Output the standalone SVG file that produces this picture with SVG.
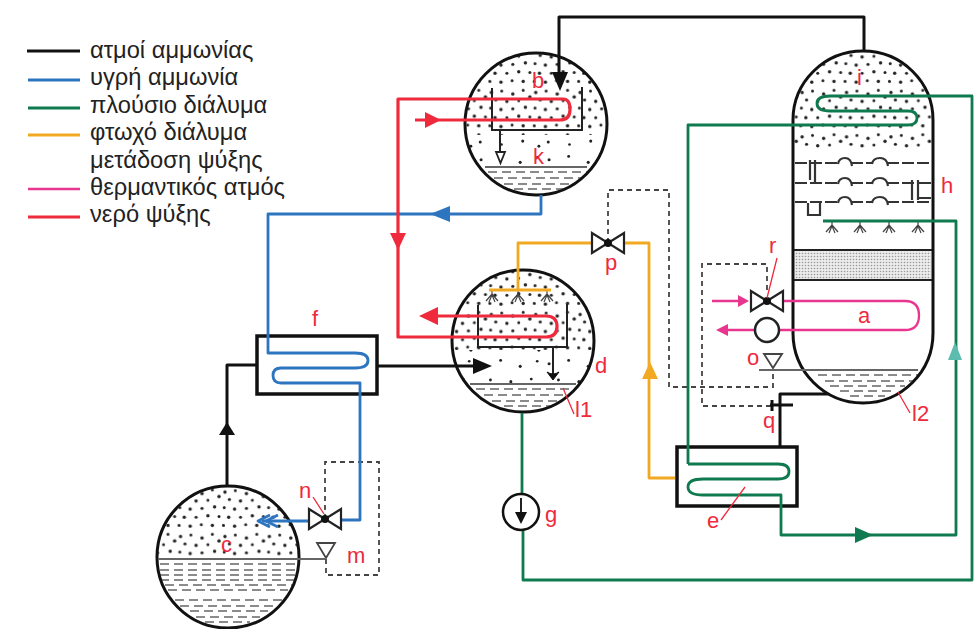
<svg xmlns="http://www.w3.org/2000/svg" xmlns:xlink="http://www.w3.org/1999/xlink" width="974" height="629" viewBox="0 0 974 629">
<style>
text{font-family:"Liberation Sans",Arial,sans-serif}
.leg{font-size:23.700px;fill:#222}
.lab{font-size:22px;fill:#ee2a3c}
.ves{fill:none;stroke:#111;stroke-width:3}
.box{fill:#fff;stroke:#111;stroke-width:3.5}
.c{fill:none;stroke-linejoin:round}
.k{stroke:#111;stroke-width:3}
.b{stroke:#2e75c0;stroke-width:2.800}
.g{stroke:#0f7a4f;stroke-width:2.800}
.o{stroke:#f2a922;stroke-width:2.800}
.p{stroke:#e8368f;stroke-width:2.300}
.r{stroke:#ee2a3c;stroke-width:3.200}
.thin{fill:none;stroke:#222;stroke-width:2}
.dash{fill:none;stroke:#444;stroke-width:1.800;stroke-dasharray:5 4}
.liq{fill:none;stroke:#666;stroke-width:1.500;stroke-dasharray:9 5}
.lev{stroke:#666;stroke-width:1.800;fill:none}
.lead{stroke:#ee2a3c;stroke-width:1.300;fill:none}
.tray{fill:none;stroke:#333;stroke-width:2.200;stroke-dasharray:12 3}
.cap{fill:none;stroke:#333;stroke-width:2.200}
.valve{fill:#fff;stroke:#222;stroke-width:2.200}
.spr{fill:none;stroke:#444;stroke-width:1.200}
</style>
<defs>
<pattern id="dense" width="60" height="60" patternUnits="userSpaceOnUse" patternTransform="scale(.74)">
<g fill="#222"><circle cx="4" cy="5" r="2.300"/><circle cx="18" cy="3" r="2"/><circle cx="33" cy="7" r="2.300"/><circle cx="47" cy="2" r="2"/><circle cx="56" cy="11" r="2.300"/><circle cx="10" cy="15" r="2.100"/><circle cx="25" cy="17" r="2.300"/><circle cx="41" cy="16" r="2"/><circle cx="3" cy="26" r="2"/><circle cx="17" cy="28" r="2.300"/><circle cx="33" cy="27" r="2.100"/><circle cx="50" cy="25" r="2.300"/><circle cx="9" cy="39" r="2.300"/><circle cx="25" cy="39" r="2"/><circle cx="41" cy="37" r="2.300"/><circle cx="56" cy="38" r="2"/><circle cx="2" cy="50" r="2.100"/><circle cx="17" cy="51" r="2.300"/><circle cx="32" cy="49" r="2"/><circle cx="47" cy="50" r="2.300"/></g>
</pattern>
<pattern id="sparse" width="80" height="60" patternUnits="userSpaceOnUse" patternTransform="scale(.85)">
<g fill="#222"><circle cx="6" cy="8" r="1.800"/><circle cx="29" cy="4" r="1.700"/><circle cx="52" cy="11" r="1.800"/><circle cx="72" cy="5" r="1.600"/><circle cx="17" cy="27" r="1.700"/><circle cx="41" cy="29" r="1.800"/><circle cx="65" cy="26" r="1.700"/><circle cx="5" cy="47" r="1.800"/><circle cx="30" cy="50" r="1.600"/><circle cx="55" cy="46" r="1.800"/><circle cx="74" cy="52" r="1.700"/></g>
</pattern>
<pattern id="fine" width="3" height="3" patternUnits="userSpaceOnUse"><rect width="3" height="3" fill="#ececec"/><circle cx="1.500" cy="1.500" r=".8" fill="#999"/></pattern>
<clipPath id="cb"><circle cx="536" cy="124" r="70"/></clipPath>
<clipPath id="cd"><circle cx="523" cy="341" r="70"/></clipPath>
<clipPath id="cc"><circle cx="228" cy="557" r="70"/></clipPath>
<clipPath id="ccol"><path d="M793 333V120A70 69 0 0 1 933 120V333A70 70 0 0 1 793 333Z"/></clipPath>
<g id="v"><path class="valve" d="M0 0L-16 -10V10ZM0 0L16 -10V10Z"/><circle r="4" fill="#111"/></g>
<g id="spray"><path class="spr" d="M0 0V5M-6 10L0 3L6 10M-3 11L0 4L3 11"/></g>
<g id="tray"><path class="tray" d="M795 0H839"/><path class="tray" d="M851 0H873"/><path class="tray" d="M887 0H931"/><path class="cap" d="M838 1Q839 -5 845 -5Q851 -5 852 3M872 1Q873 -5 880 -5Q887 -5 888 3"/></g>
</defs>

<g id="legend">
<path class="c k" d="M27 51H80"/><path class="c b" d="M28 80H80"/><path class="c g" d="M28 108H80"/><path class="c o" d="M28 135H80"/><path class="c p" d="M28 189H80"/><path class="c r" d="M28 217H80"/>
<text class="leg" x="90" y="58">ατμοί αμμωνίας</text>
<text class="leg" x="90" y="85">υγρή αμμωνία</text>
<text class="leg" x="90" y="113">πλούσιο διάλυμα</text>
<text class="leg" x="90" y="140">φτωχό διάλυμα</text>
<text class="leg" x="90" y="168">μετάδοση ψύξης</text>
<text class="leg" x="90" y="195">θερμαντικός ατμός</text>
<text class="leg" x="90" y="222">νερό ψύξης</text>
</g>

<g id="vessel-b">
<g clip-path="url(#cb)"><rect x="460" y="50" width="150" height="85" fill="url(#dense)"/><rect x="460" y="135" width="150" height="30" fill="url(#sparse)"/>
<path class="liq" d="M488 172H590M480 178H590M490 184H590M500 189H580"/></g>
<path class="lev" d="M485 167H587"/>
<circle class="ves" cx="536" cy="124" r="71"/>
<path class="thin" d="M492 88V130H582V87"/>
<path class="thin" d="M500 130V152"/><path d="M496 152H505L500.500 163Z" fill="#fff" stroke="#222" stroke-width="1.800"/>
<text class="lab" x="532" y="88">b</text><text class="lab" x="533" y="164">k</text>
</g>

<g id="vessel-d">
<g clip-path="url(#cd)"><rect x="450" y="268" width="146" height="82" fill="url(#dense)"/><rect x="450" y="350" width="146" height="34" fill="url(#sparse)"/>
<path class="liq" d="M476 389H572M484 395H568M492 401H560M504 406H550"/></g>
<path class="lev" d="M470 384H576"/>
<circle class="ves" cx="523" cy="341" r="71"/>
<path class="thin" d="M478 305V347H567V304"/>
<path class="thin" d="M553 347V375"/><path d="M547 372Q553 376 559 372L553 380Z" fill="#111" stroke="#111"/>
<use xlink:href="#spray" href="#spray" x="492" y="291"/><use xlink:href="#spray" href="#spray" x="518" y="291"/><use xlink:href="#spray" href="#spray" x="547" y="291"/>
<path class="lead" d="M563 388L574 414"/>
<text class="lab" x="595" y="373">d</text><text class="lab" x="575" y="417">l1</text>
</g>

<g id="vessel-c">
<g clip-path="url(#cc)"><rect x="155" y="484" width="146" height="74" fill="url(#dense)"/>
<path class="liq" d="M160 564H296M160 570H296M160 575H296M160 580H296M165 585H292M168 590H288M175 600H282M180 606H276M190 611H268M196 617H260M205 622H250"/></g>
<circle class="ves" cx="228" cy="557" r="71"/>
<path class="lev" d="M158 559H325"/>
<text class="lab" x="221" y="552">c</text>
</g>

<g id="column">
<path d="M793 333V120A70 69 0 0 1 933 120V333A70 70 0 0 1 793 333Z" fill="#fff"/>
<g clip-path="url(#ccol)"><rect x="790" y="50" width="146" height="100" fill="url(#dense)"/>
<rect x="795" y="251" width="136" height="28" fill="url(#fine)"/>
<path class="liq" d="M818 375H920M825 381H915M830 386H905M840 391H895M850 396H885"/></g>
<use xlink:href="#tray" href="#tray" y="163"/><use xlink:href="#tray" href="#tray" y="183"/><use xlink:href="#tray" href="#tray" y="202"/>
<path class="cap" d="M810 160V180M815 160V183M912 180V200M918 180V200M918 183H931M918 198H931M808 203V215H820V203"/>
<path class="thin" d="M793 250H933M793 280H933"/>
<path d="M793 333V120A70 69 0 0 1 933 120V333A70 70 0 0 1 793 333Z" class="ves"/>
<use xlink:href="#spray" href="#spray" x="832" y="222"/><use xlink:href="#spray" href="#spray" x="860" y="222"/><use xlink:href="#spray" href="#spray" x="889" y="222"/><use xlink:href="#spray" href="#spray" x="918" y="222"/>
<path class="lev" d="M759 370H918"/>
<path class="lead" d="M898 392L910 413"/>
<text class="lab" x="857" y="85">i</text><text class="lab" x="941" y="193">h</text><text class="lab" x="912" y="421">l2</text><text class="lab" x="858" y="323">a</text>
</g>

<g id="exchanger-f"><rect class="box" x="257" y="336" width="120" height="58"/></g>
<g id="exchanger-e"><rect class="box" x="677" y="447" width="120" height="59"/></g>

<g id="connectors">
<path class="dash" d="M608 243V190H669V387H773V372"/>
<path class="dash" d="M767 290V264H702V406H772"/>
<path class="dash" d="M325 519V462H379V575H326V558"/>
<path class="c k" d="M864 51V17H559V78"/><polygon points="552,72 568,72 560,91" fill="#111"/>
<path class="c k" d="M227 485V365H257"/><polygon points="219,435 235,435 227,422" fill="#111"/>
<path class="c k" d="M377 366H478"/><polygon points="473,358 473,374 492,366" fill="#111"/>
<path class="c k" d="M828 394H780V447"/><path class="c k" d="M770 405H793M772 400V411"/>

<path class="c b" d="M541 195V214H268V353H355Q368 353 368 360.500Q368 368 355 368H281Q273 368 273 375.500Q273 383 281 383H360V520H341"/>
<polygon points="430,214 450,206 450,222" fill="#2e75c0"/>
<path class="c b" d="M310 521H262"/><path class="c b" d="M270 515L258 521L270 527M278 515L266 521L278 527"/>

<path class="c g" d="M688 464V125H908Q917 125 917 118Q917 111 908 111H830Q817 111 817 103.500Q817 96 830 96H972V580H523V530"/>
<path class="c g" d="M522 494V413"/>
<path class="c g" d="M688 464H778Q789 464 789 471.500Q789 479 778 479H703Q688 479 688 487Q688 495 703 495H781V535H956V221H823"/>
<polygon points="855,527 855,543 873,535" fill="#0f7a4f"/>
<polygon points="955,342 948,360 962,360" fill="#5cbcae"/>

<path class="c o" d="M489 290H551M518 290V243H592M624 243H649V478H675"/>
<polygon points="650,362 642,379 658,379" fill="#f2a922"/>

<path class="c r" d="M563 99Q570 99 570 109.500Q570 120 560 120H415M563 99H398V337H546Q557 337 557 326.500Q557 316 546 316H432"/>
<polygon points="398,250 390,233 406,233" fill="#ee2a3c"/>
<polygon points="441,120 425,112 425,128" fill="#ee2a3c"/>
<polygon points="419,316 438,307 438,325" fill="#ee2a3c"/>

<path class="c p" d="M783 301H905Q919 301 919 315.500Q919 330 905 330H779"/>
<path class="c p" d="M712 301H740M755 330H728"/>
<polygon points="749,301 738,295 738,307" fill="#e8368f"/>
<polygon points="716,330 728,324 728,336" fill="#e8368f"/>
</g>

<g id="valve-n"><use xlink:href="#v" href="#v" x="325" y="519"/><path class="lead" d="M313 497L324 514"/><text class="lab" x="299" y="498">n</text></g>
<g id="valve-p"><use xlink:href="#v" href="#v" x="608" y="243"/><text class="lab" x="605" y="270">p</text></g>
<g id="valve-r"><use xlink:href="#v" href="#v" x="767" y="301"/><path class="lead" d="M777 258L767 298"/><text class="lab" x="769" y="253">r</text></g>
<g id="trap"><circle cx="767" cy="330" r="12" fill="#fff" stroke="#222" stroke-width="2.500"/></g>
<g id="level-o"><path d="M764 354H782L773 368Z" fill="#fff" stroke="#444" stroke-width="1.800"/><text class="lab" x="747" y="365">o</text></g>
<g id="level-m"><path d="M317 543H335L326 558Z" fill="#fff" stroke="#444" stroke-width="1.800"/><text class="lab" x="347" y="563">m</text></g>
<g id="pump-g"><circle cx="521" cy="512" r="18" fill="#fff" stroke="#111" stroke-width="2.500"/><path class="thin" d="M521 498V515"/><polygon points="515,512 527,512 521,524" fill="#111"/><text class="lab" x="545" y="522">g</text></g>
<g id="labels">
<text class="lab" x="312" y="326">f</text>
<text class="lab" x="763" y="428">q</text>
<text class="lab" x="707" y="528">e</text>
<path class="lead" d="M745 487L721 520"/>
</g>
</svg>
